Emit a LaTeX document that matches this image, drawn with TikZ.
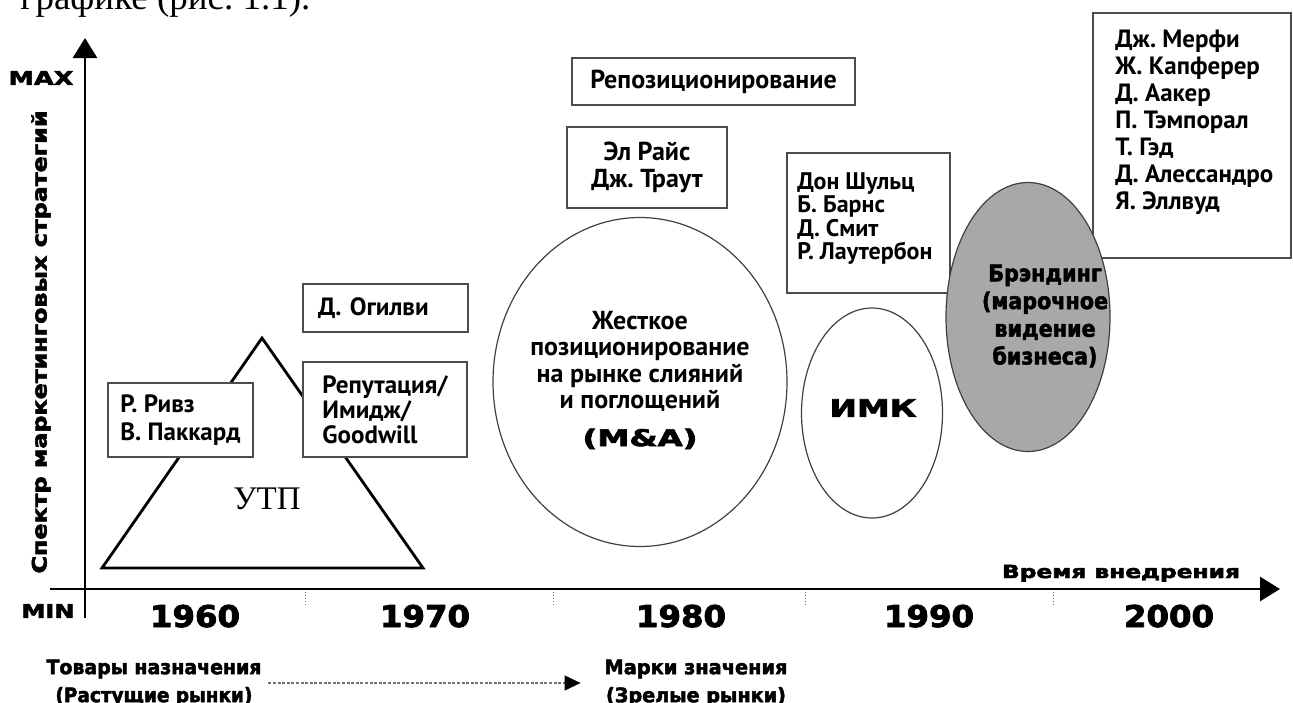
\documentclass[tikz,border=0pt]{standalone}
\usepackage{fontspec}
\usepackage{graphicx}
\setmainfont{Liberation Serif}
\newfontfamily\namefont{PT Sans}
\newfontfamily\heavyfont{DejaVu Sans}[BoldFeatures={FakeBold=2.6}]
\newfontfamily\condfont{DejaVu Sans Condensed}[BoldFeatures={FakeBold=2.2}]
\usetikzlibrary{arrows.meta,shapes.geometric}
% one drawing unit
\newdimen\pxu \pxu=0.5pt
% stretch a text horizontally to a given width, keeping its height
\newcommand{\fitw}[2]{\resizebox{#1\pxu}{\height}{#2}}

\begin{document}
\begin{tikzpicture}[x=0.5pt,y=-0.5pt,
  every node/.style={inner sep=0pt},
  names/.style={font=\namefont\bfseries\fontsize{12.5}{14}\selectfont},
  namebox/.style={names, draw=black!70, line width=0.6pt, fill=white},
  ell/.style={ellipse, draw=black!75, line width=0.6pt, fill=white, inner sep=0pt},
  heavy/.style={font=\heavyfont\bfseries\fontsize{#1}{#1}\selectfont},
  axis/.style={line width=1.4pt, -{Triangle[length=10pt,width=12pt]}},
  tick/.style={draw=black!55, line width=0.5pt, densely dotted},
  dotarrow/.style={draw=black!55, line width=0.6pt, dash pattern=on 1.5pt off 0.8pt,
    -{Triangle[length=8pt,width=7.5pt,black]}}
]
\useasboundingbox (0,0) rectangle (1293,702);

% running text of the page above the figure
\node[anchor=base west, font=\fontsize{18.5}{20}\selectfont] (caption) at (20,9) {графике (рис.~1.1).};

% axes
\coordinate (ybot) at (85,618);
\coordinate (ytip) at (85,38);
\coordinate (xstart) at (50,589);
\coordinate (xtip) at (1280,589);
\draw[axis] (ybot) -- (ytip);
\draw[axis] (xstart) -- (xtip);
\foreach \t in {305,553,805,1053} \draw[tick] (\t,592) -- (\t,606);

\node[heavy=9.5] (maxlab) at (41,78) {\fitw{65}{MAX}};
\node[heavy=9.5] (minlab) at (48,611) {\fitw{53}{MIN}};
\node[heavy=10, rotate=90] (ylab) at (41,342) {\fitw{463}{Спектр маркетинговых стратегий}};
\node[heavy=9, anchor=base] (xlab) at (1121,578) {\fitw{238}{Время внедрения}};

% decades
\node[heavy=15, anchor=base] (y1960) at (195,627) {\fitw{90}{1960}};
\node[heavy=15, anchor=base] (y1970) at (425,627) {\fitw{90}{1970}};
\node[heavy=15, anchor=base] (y1980) at (681,627) {\fitw{90}{1980}};
\node[heavy=15, anchor=base] (y1990) at (929,627) {\fitw{90}{1990}};
\node[heavy=15, anchor=base] (y2000) at (1169,627) {\fitw{90}{2000}};

% USP triangle
\coordinate (tl) at (102,568);
\coordinate (tt) at (262,338);
\coordinate (tr) at (423,568);
\draw[line width=1.4pt, line join=miter] (tl) -- (tt) -- (tr) -- cycle;
\node[font=\fontsize{16.5}{18}\selectfont] (utp) at (267,499) {УТП};

% author boxes
\node[namebox, minimum width=145\pxu, minimum height=74\pxu, align=left] (rivz) at (180.5,420)
  {Р.~Ривз\\В.~Паккард};
\node[namebox, minimum width=164\pxu, minimum height=95\pxu, align=left,
  font=\namefont\bfseries\fontsize{12.5}{12.5}\selectfont] (repu) at (385,409.5)
  {Репутация/\\Имидж/\\Goodwill};
\node[namebox, text width=135\pxu, inner xsep=15\pxu, minimum height=48\pxu, align=left] (ogil) at (385.5,308)
  {Д.~Огилви};
\node[namebox, minimum width=283\pxu, minimum height=47\pxu, align=center,
  font=\namefont\bfseries\fontsize{13}{13.5}\selectfont] (repos) at (713.5,81.5)
  {Репозиционирование};
\node[namebox, minimum width=160\pxu, minimum height=81\pxu, align=center,
  font=\namefont\bfseries\fontsize{13}{13.5}\selectfont] (rice) at (647,167.5)
  {Эл Райс\\Дж.~Траут};
\node[namebox, minimum width=163\pxu, minimum height=140\pxu] (shultzbox) at (868.5,223) {};
\node[anchor=north west, align=left,
  font=\namefont\bfseries\fontsize{12}{11.75}\selectfont] (shultz) at (797,172)
  {Дон Шульц\\Б.~Барнс\\Д.~Смит\\Р.~Лаутербон};
\node[namebox, minimum width=198\pxu, minimum height=245\pxu] (murphybox) at (1192,135.5) {};
\node[anchor=north west, align=left,
  font=\namefont\bfseries\fontsize{12.5}{13.5}\selectfont] (murphy) at (1115,30)
  {Дж.~Мерфи\\Ж.~Капферер\\Д.~Аакер\\П.~Тэмпорал\\Т.~Гэд\\Д.~Алессандро\\Я.~Эллвуд};

% strategy ovals
\node[ell, minimum width=294\pxu, minimum height=329\pxu] (maell) at (640,382) {};
\node[align=center, font=\namefont\bfseries\fontsize{13}{13.25}\selectfont] (ma) at (640,380)
  {Жесткое\\позиционирование\\на рынке слияний\\и поглощений\\[5.5pt]
   {\heavyfont\bfseries\fontsize{11.5}{13}\selectfont\fitw{115}{(M\&A)}}};

\node[ell, minimum width=141\pxu, minimum height=210\pxu] (imkell) at (872,413) {};
\node[heavy=12] (imk) at (873,408) {\fitw{87}{ИМК}};

\node[ell, fill=black!34, minimum width=164\pxu, minimum height=269\pxu] (brandell) at (1028,317) {};
\node[align=center, font=\condfont\bfseries\fontsize{11.5}{13.85}\selectfont] (brand) at (1045,316)
  {Брэндинг\\(марочное\\видение\\бизнеса)};

% market stages
\node[align=center, font=\condfont\bfseries\fontsize{10}{14}\selectfont] (tovary) at (154,683)
  {\fitw{215}{Товары назначения}\\\fitw{197}{(Растущие рынки)}};
\node[align=center, font=\condfont\bfseries\fontsize{10}{14}\selectfont] (marki) at (696,683)
  {\fitw{183}{Марки значения}\\\fitw{180}{(Зрелые рынки)}};
\draw[dotarrow, shorten <=3.25pt, shorten >=11.75pt] (tovary.east) -- (marki.west);
\end{tikzpicture}
\end{document}
